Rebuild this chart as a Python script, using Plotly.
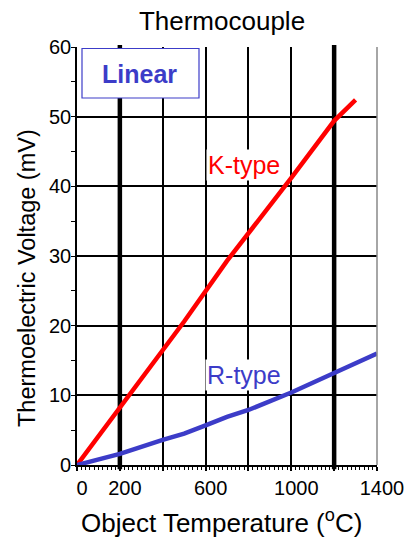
import plotly.graph_objects as go

# Thermocouple output (mV) versus temperature (degC)
k_temp = [0, 200, 500, 700, 1000, 1200, 1300]
k_mv = [0, 8.2, 20.6, 29.3, 41.2, 49.4, 52.4]

r_temp = [0, 200, 400, 500, 600, 700, 800, 1000, 1200, 1400]
r_mv = [0, 1.6, 3.6, 4.5, 5.7, 6.9, 7.9, 10.4, 13.2, 16.0]

x_tickvals = [0, 200, 400, 600, 800, 1000, 1200, 1400]
x_ticktext = ["0", "200", "", "600", "", "1000", "", "1400"]
y_tickvals = [0, 10, 20, 30, 40, 50, 60]

# temperatures marked with heavy vertical rules
marker_temps = [200, 1200]

FONT = "Liberation Sans, Arial, Helvetica, sans-serif"
RED = "#ff0000"
BLUE = "#3c3cc8"

W, H = 411, 537
L, R, T, B = 77, 34, 47, 72
PW, PH = W - L - R, H - T - B


def px_x(px):
    """Horizontal pixel -> paper fraction."""
    return (px - L) / PW


def px_y(py):
    """Vertical pixel (from top) -> paper fraction."""
    return 1 - (py - T) / PH


fig = go.Figure()
fig.add_trace(go.Scatter(x=k_temp, y=k_mv, mode="lines", name="K-type",
                         line=dict(color=RED, width=4.5)))
fig.add_trace(go.Scatter(x=r_temp, y=r_mv, mode="lines", name="R-type",
                         line=dict(color=BLUE, width=4.5)))

for t in marker_temps:
    fig.add_shape(type="line", xref="x", yref="paper", x0=t, x1=t, y0=-0.01, y1=1.005,
                  line=dict(color="black", width=4.5), layer="below")

# right frame edge
fig.add_shape(type="line", xref="paper", yref="paper", x0=1, x1=1, y0=0, y1=1,
              line=dict(color="#888888", width=1.5))

# "Linear" box
fig.add_shape(type="rect", xref="paper", yref="paper",
              x0=px_x(82), x1=px_x(199), y0=px_y(48.5), y1=px_y(98),
              line=dict(color=BLUE, width=1.2), fillcolor="white")
fig.add_annotation(text="<b>Linear</b>", xref="paper", yref="paper",
                   x=px_x(139), y=px_y(74), xanchor="center", yanchor="middle",
                   showarrow=False, font=dict(family=FONT, size=25, color=BLUE))

fig.add_annotation(text="K-type", x=780, y=43.1, xref="x", yref="y", showarrow=False,
                   xanchor="center", yanchor="middle",
                   font=dict(family=FONT, size=25, color=RED), bgcolor="white")
fig.add_annotation(text="R-type", x=780, y=12.9, xref="x", yref="y", showarrow=False,
                   xanchor="center", yanchor="middle",
                   font=dict(family=FONT, size=25, color=BLUE), bgcolor="white")

# axis titles
fig.add_annotation(text="Object Temperature (<sup>o</sup>C)", xref="paper", yref="paper",
                   x=px_x(221), y=px_y(521), xanchor="center", yanchor="middle",
                   showarrow=False, font=dict(family=FONT, size=26, color="black"))
fig.add_annotation(text="Thermoelectric Voltage (mV)", xref="paper", yref="paper",
                   x=px_x(27), y=px_y(278), xanchor="center", yanchor="middle",
                   textangle=-90, showarrow=False,
                   font=dict(family=FONT, size=23.5, color="black"))

fig.update_layout(
    width=W, height=H,
    margin=dict(l=L, r=R, t=T, b=B, autoexpand=False),
    paper_bgcolor="white", plot_bgcolor="white",
    showlegend=False,
    font=dict(family=FONT, color="black"),
    title=dict(text="Thermocouple", x=222 / W, xanchor="center", y=1 - 21 / H,
               yanchor="middle", font=dict(family=FONT, size=26, color="black")),
)

fig.update_xaxes(
    range=[0, 1400], tickvals=x_tickvals, ticktext=x_ticktext,
    showgrid=True, gridcolor="black", gridwidth=1.6,
    showline=True, linecolor="black", linewidth=1.6,
    ticks="outside", ticklen=4, tickcolor="black", tickwidth=1.5,
    ticklabelshift=5, automargin=False,
    minor=dict(dtick=20, ticks="outside", ticklen=3, tickcolor="black", tickwidth=1, showgrid=False),
    zeroline=False, tickfont=dict(family=FONT, size=20, color="black"),
)
fig.update_yaxes(
    range=[0, 60], tickvals=y_tickvals, automargin=False,
    showgrid=True, gridcolor="black", gridwidth=1.6,
    showline=True, linecolor="black", linewidth=1.6,
    ticks="",
    minor=dict(dtick=5, ticks="outside", ticklen=4, tickcolor="black", tickwidth=1, showgrid=False),
    zeroline=False, tickfont=dict(family=FONT, size=20, color="black"),
)

fig.write_html("out.html")
